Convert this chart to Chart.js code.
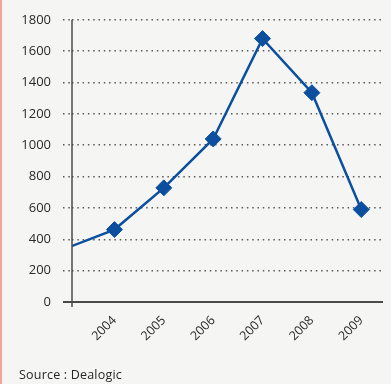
<!DOCTYPE html>
<html>
<head>
<meta charset="utf-8">
<script src="https://cdn.jsdelivr.net/npm/chart.js@4/dist/chart.umd.min.js"></script>
<style>
    html, body { margin: 0; padding: 0; }
    body {
        width: 391px;
        height: 384px;
        background: #f5f6f3;
        position: relative;
        overflow: hidden;
        font-family: "Open Sans", sans-serif;
    }
    #strip {
        position: absolute; left: 0; top: 0; width: 2px; height: 384px;
        background: #f2a49a;
    }
    #wrap { position: absolute; left: 0; top: 0; width: 391px; height: 384px; }
    #source {
        position: absolute; left: 19px; top: 366px;
        font-size: 12.5px; color: #262626; letter-spacing: 0.2px;
    }
</style>
</head>
<body>
<div id="strip"></div>
<div id="wrap"><canvas id="lineChart"></canvas></div>
<div id="source">Source : Dealogic</div>
<script>
// Data: the 2003 value only feeds the segment entering from the left edge
const years = [2003, 2004, 2005, 2006, 2007, 2008, 2009];
const deals = [340, 462, 728, 1040, 1680, 1335, 590];
const yearTicks = [2004, 2005, 2006, 2007, 2008, 2009];
const yTicks = [0, 200, 400, 600, 800, 1000, 1200, 1400, 1600, 1800];

const blue = '#0c4f9f';
const gridGrey = '#5a5a5a';
const textGrey = '#2a2a2a';

// Solid y axis line, plus the short stub of the x axis left of it
const axisLines = {
    id: 'axisLines',
    afterDraw(chart) {
        const { ctx, chartArea: a } = chart;
        ctx.save();
        ctx.strokeStyle = '#4a4a4a';
        ctx.lineWidth = 1.5;
        ctx.beginPath();
        ctx.moveTo(a.left, a.top);
        ctx.lineTo(a.left, a.bottom + 5);
        ctx.stroke();
        ctx.lineWidth = 2;
        ctx.beginPath();
        ctx.moveTo(a.left - 9, a.bottom);
        ctx.lineTo(a.left, a.bottom);
        ctx.stroke();
        ctx.restore();
    }
};

new Chart(document.getElementById('lineChart'), {
    type: 'line',
    data: {
        datasets: [{
            data: years.map((y, i) => ({ x: y, y: deals[i] })),
            borderColor: blue,
            backgroundColor: blue,
            borderWidth: 2.5,
            pointStyle: 'rectRot',
            pointRadius: ctx => (ctx.dataIndex === 0 ? 0 : 8),
            pointBorderWidth: 1,
            pointBorderColor: blue,
            pointBackgroundColor: blue,
            tension: 0,
            clip: 0
        }]
    },
    options: {
        responsive: true,
        maintainAspectRatio: false,
        animation: false,
        layout: { padding: { top: 16, right: 5, left: 0, bottom: 0 } },
        plugins: {
            legend: { display: false },
            tooltip: { enabled: false }
        },
        scales: {
            x: {
                type: 'linear',
                min: 2003.14,
                max: 2009.42,
                afterBuildTicks: s => { s.ticks = yearTicks.map(v => ({ value: v })); },
                afterFit: s => { s.height = 82; },
                grid: { display: false, drawTicks: false },
                border: { display: true, color: '#4a4a4a', width: 2 },
                ticks: {
                    minRotation: 45,
                    maxRotation: 45,
                    padding: 11,
                    color: textGrey,
                    font: { family: 'Open Sans', size: 12.5 },
                    callback: v => String(v)
                }
            },
            y: {
                min: 0,
                max: 1800,
                afterBuildTicks: s => { s.ticks = yTicks.map(v => ({ value: v })); },
                afterFit: s => { s.width = 72; },
                grid: {
                    color: gridGrey,
                    lineWidth: 1.5,
                    drawTicks: true,
                    tickLength: 9,
                    tickColor: gridGrey,
                    tickWidth: 1.5,
                    tickBorderDash: [1.5, 3.8]
                },
                border: { display: false, dash: [1.5, 3.8] },
                ticks: {
                    padding: 12,
                    color: textGrey,
                    font: { family: 'Open Sans', size: 13 },
                    callback: v => String(v)
                }
            }
        }
    },
    plugins: [axisLines]
});
</script>
</body>
</html>
